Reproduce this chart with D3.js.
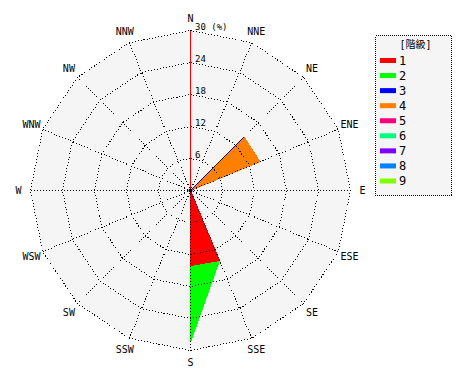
<!DOCTYPE html>
<html>
<head>
<meta charset="utf-8">
<script src="https://cdn.jsdelivr.net/npm/d3@7"></script>
<style>
  body { margin: 0; background: #fff; }
  text { font-family: "DejaVu Sans Mono", "Noto Sans CJK JP", monospace; fill: #000; }
</style>
</head>
<body>
<svg class="rose-svg" width="470" height="380"></svg>
<script>
'use strict'

// 16 directions, clockwise from N
const directions = ['N', 'NNE', 'NE', 'ENE', 'E', 'ESE', 'SE', 'SSE',
  'S', 'SSW', 'SW', 'WSW', 'W', 'WNW', 'NW', 'NNW']
const classes = ['1', '2', '3', '4', '5', '6', '7', '8', '9']
const classColors = ['#ff0000', '#00ff00', '#0000ff', '#ff8000', '#ff0080',
  '#00ff80', '#8000ff', '#0080ff', '#80ff00']

// frequency (%) per class, by direction (same order as directions)
const class1 = [0, 0, 0, 0, 0, 0, 0, 14.2, 14.1, 0, 0, 0, 0, 0, 0, 0]
const class2 = [0, 0, 0, 0, 0, 0, 0, 0, 14.3, 0, 0, 0, 0, 0, 0, 0]
const class3 = [0, 0, 14.2, 0, 0, 0, 0, 0, 0, 0, 0, 0, 0, 0, 0, 0]
const class4 = [0, 0, 0, 14.1, 0, 0, 0, 0, 0, 0, 0, 0, 0, 0, 0, 0]
const class5 = [0, 0, 0, 0, 0, 0, 0, 0, 0, 0, 0, 0, 0, 0, 0, 0]
const class6 = [0, 0, 0, 0, 0, 0, 0, 0, 0, 0, 0, 0, 0, 0, 0, 0]
const class7 = [0, 0, 0, 0, 0, 0, 0, 0, 0, 0, 0, 0, 0, 0, 0, 0]
const class8 = [0, 0, 0, 0, 0, 0, 0, 0, 0, 0, 0, 0, 0, 0, 0, 0]
const class9 = [0, 0, 0, 0, 0, 0, 0, 0, 0, 0, 0, 0, 0, 0, 0, 0]

const ringTicks = [6, 12, 18, 24, 30]
const ringLabels = ['6', '12', '18', '24', '30 (%)']
const legendTitle = '[階級]'

const svg = d3.select('.rose-svg')
const cx = 190.5
const cy = 190.5
const R = 160

const rScale = d3.scaleLinear().domain([0, 30]).range([0, R])
const angle = d3.scalePoint().domain(directions.concat(['_end']))
  .range([0, 2 * Math.PI])

// build a table for d3.stack
const series = [class1, class2, class3, class4, class5, class6, class7, class8, class9]
const table = directions.map(function (dir, i) {
  const row = { dir: dir }
  classes.forEach(function (c, k) { row[c] = series[k][i] })
  return row
})
const stacked = d3.stack().keys(classes)(table)

const g = svg.append('g').attr('transform', 'translate(' + cx + ',' + cy + ')')

const ringLine = d3.lineRadial()
  .angle(function (d) { return angle(d) })
  .curve(d3.curveLinearClosed)

// background
g.append('path')
  .attr('d', ringLine.radius(rScale(30))(directions))
  .attr('fill', '#f5f5f5')

// stacked polygons, largest cumulative first
const dataLine = d3.lineRadial()
  .angle(function (d) { return angle(d.data.dir) })
  .radius(function (d) { return rScale(d[1]) })
  .curve(d3.curveLinearClosed)

for (let k = stacked.length - 1; k >= 0; k--) {
  g.append('path')
    .attr('d', dataLine(stacked[k]))
    .attr('fill', classColors[k])
    .attr('stroke', classColors[k])
    .attr('stroke-width', 1)
    .attr('shape-rendering', 'crispEdges')
}

// grid rings
ringTicks.forEach(function (t) {
  g.append('path')
    .attr('d', ringLine.radius(rScale(t))(directions))
    .attr('fill', 'none')
    .attr('stroke', '#000')
    .attr('stroke-dasharray', '1,2')
    .attr('shape-rendering', 'crispEdges')
})

// spokes
directions.forEach(function (d) {
  const a = angle(d)
  g.append('line')
    .attr('x1', 0).attr('y1', 0)
    .attr('x2', rScale(30) * Math.sin(a))
    .attr('y2', -rScale(30) * Math.cos(a))
    .attr('stroke', '#000')
    .attr('stroke-dasharray', '1,2')
    .attr('shape-rendering', 'crispEdges')
})

// red north axis
g.append('line')
  .attr('x1', 0).attr('y1', 0)
  .attr('x2', 0).attr('y2', -rScale(30))
  .attr('stroke', '#ff0000')
  .attr('stroke-width', 1)
  .attr('shape-rendering', 'crispEdges')

g.append('circle').attr('r', 2).attr('fill', '#000')

// ring labels
ringTicks.forEach(function (t, i) {
  g.append('text')
    .attr('x', 4.5)
    .attr('y', -rScale(t) - 1)
    .style('font-size', '9px')
    .text(ringLabels[i])
})

// direction labels
directions.forEach(function (d) {
  const a = angle(d)
  g.append('text')
    .attr('x', (R + 12) * Math.sin(a))
    .attr('y', -(R + 12) * Math.cos(a))
    .attr('text-anchor', 'middle')
    .attr('dominant-baseline', 'central')
    .style('font-size', '10px')
    .text(d)
})

// legend
const legend = svg.append('g').attr('transform', 'translate(375.5,35.5)')
legend.append('rect')
  .attr('width', 76).attr('height', 160)
  .attr('fill', '#f5f5f5')
  .attr('stroke', '#000')
  .attr('stroke-dasharray', '1,1')
  .attr('shape-rendering', 'crispEdges')
legend.append('text')
  .attr('x', 40).attr('y', 9)
  .attr('text-anchor', 'middle')
  .attr('dominant-baseline', 'central')
  .style('font-size', '10px')
  .text(legendTitle)

const legendY = d3.scalePoint().domain(classes).range([25, 145.5])
classes.forEach(function (c, k) {
  legend.append('rect')
    .attr('x', 4.5).attr('y', legendY(c) - 2.5)
    .attr('width', 16).attr('height', 5)
    .attr('fill', classColors[k])
  legend.append('text')
    .attr('x', 23.5).attr('y', legendY(c))
    .attr('dominant-baseline', 'central')
    .style('font-size', '12px')
    .text(c)
})
</script>
</body>
</html>
